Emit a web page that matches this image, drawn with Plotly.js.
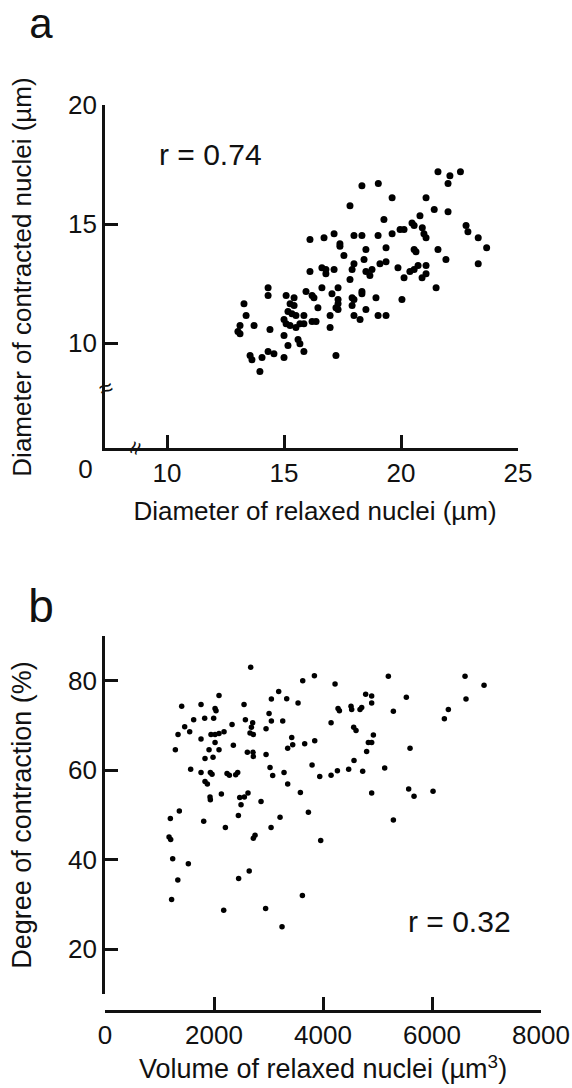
<!DOCTYPE html>
<html>
<head>
<meta charset="utf-8">
<script src="https://cdn.plot.ly/plotly-3.0.1.min.js"></script>
<style>
html,body{margin:0;padding:0;background:#fff;}
#wrap{position:relative;width:572px;height:1088px;overflow:hidden;}
#chart{position:absolute;left:0;top:0;width:572px;height:1088px;}
.lbl{position:absolute;font-family:'Liberation Sans',Arial,sans-serif;color:#111;white-space:nowrap;line-height:1.15;pointer-events:none;}
.sup{font-size:0.7em;position:relative;top:-0.55em;}
</style>
</head>
<body>
<div id="wrap"><div id="chart"></div></div>
<script>
// Panel a: diameter of relaxed (x) vs contracted (y) nuclei, µm
const relaxedDiameter = [
21.58,22.09,22.54,22.01,18.33,19.03,19.62,21.07,17.82,21.42,
22.01,20.81,19.27,20.47,20.56,20.91,22.78,22.86,19.96,20.13,
19.62,20.98,21.07,23.30,23.66,16.11,16.71,17.14,17.99,18.33,
19.02,17.39,17.39,18.50,19.36,17.56,20.56,20.64,21.58,21.92,
23.30,18.42,17.99,17.91,19.10,19.36,19.87,16.11,16.62,16.79,
16.79,17.14,18.50,18.67,18.76,20.13,20.38,20.56,20.73,21.07,
21.07,20.90,17.82,21.50,20.04,14.32,14.32,15.09,15.43,15.94,
16.20,16.28,16.62,17.31,17.05,17.91,17.99,18.33,18.33,18.93,
17.31,17.31,17.22,17.31,17.91,18.50,16.45,15.26,15.43,15.17,
15.34,15.51,15.85,13.29,13.38,13.72,13.12,13.03,13.12,14.40,
15.00,15.09,15.26,15.51,15.68,15.85,16.20,16.37,16.97,16.97,
17.99,18.25,19.02,19.36,15.00,15.17,15.60,15.68,15.85,17.22,
13.55,13.63,14.06,14.32,14.57,15.00,13.97];
const contractedDiameter = [
17.20,17.03,17.20,16.70,16.61,16.70,16.11,16.11,15.77,15.61,
15.52,15.35,15.19,15.05,14.94,14.85,14.94,14.68,14.77,14.77,
14.60,14.60,14.43,14.43,14.01,14.35,14.43,14.60,14.52,14.52,
14.52,14.18,14.07,13.93,14.01,13.68,13.93,13.84,13.93,13.51,
13.34,13.51,13.34,13.09,13.34,13.42,13.17,13.01,13.17,13.09,
12.92,13.09,13.01,12.84,13.09,12.75,13.01,13.09,13.26,13.26,
12.92,12.75,12.67,12.33,11.83,12.33,12.00,12.00,11.91,12.17,
12.00,11.91,12.33,12.33,12.08,11.91,11.83,12.17,12.08,11.91,
11.83,11.66,11.49,11.41,11.58,11.41,11.49,11.66,11.58,11.33,
11.24,11.16,11.16,11.66,11.16,10.74,10.74,10.49,10.40,10.57,
10.99,10.82,10.74,10.66,10.82,10.82,10.91,10.91,11.16,10.66,
11.16,10.99,11.16,11.16,10.32,9.90,10.15,9.98,9.65,9.48,
9.48,9.31,9.40,9.65,9.56,9.40,8.81];

// Panel b: volume of relaxed nuclei (µm³) vs degree of contraction (%)
const relaxedVolume = [
2673,1407,1762,2019,2037,2092,2551,1627,1829,1994,
1462,1554,1340,1291,1762,1945,2019,2092,2184,2331,
2576,2710,2686,2661,2722,1909,2092,2019,1982,1835,
2355,2612,2716,2722,2955,2955,3010,3053,3053,3187,
3261,3334,3542,3628,3842,4221,4276,4301,4148,3426,
3444,3352,3664,3848,3799,3940,4148,4264,3028,3077,
3285,3352,3585,3732,3958,3212,3047,2863,2753,2722,
2624,2557,2472,2496,2447,2209,2135,1927,1933,1811,
1364,1199,1175,1205,1572,1762,1933,1964,1835,1878,
2239,2282,2398,2435,
5199,4783,4893,4893,4514,4526,4679,4710,5291,5529,
4563,4606,4924,4832,4893,4801,4569,4728,4471,5132,
5597,4893,5572,5670,6019,5291,6606,6955,6624,6300,6227,
1242,1529,1336,2452,2646,1222,2178,2947,3622,3248];
const contractionDegree = [
83.0,74.3,74.7,73.8,73.3,76.7,74.7,71.3,71.6,71.6,
69.7,68.6,68.0,64.6,67.0,68.0,68.0,68.2,68.6,70.2,
71.3,70.6,69.6,68.3,68.0,64.6,64.6,66.2,62.9,62.6,
65.6,64.0,64.0,63.1,63.5,69.3,72.7,71.0,75.9,77.6,
71.0,76.0,75.0,80.0,81.1,79.3,73.8,73.3,70.6,67.3,
65.7,64.9,65.9,66.6,61.2,58.6,58.9,59.9,60.6,58.8,
59.5,56.9,55.0,50.6,44.3,49.5,47.2,53.0,45.5,44.8,
54.9,54.0,53.9,52.3,49.9,47.2,54.7,54.0,53.4,48.6,
50.9,49.2,45.1,44.5,60.2,59.5,59.5,59.1,57.5,56.9,
59.3,58.9,59.0,59.5,
81.0,77.0,76.6,75.0,74.3,73.6,73.6,74.0,73.2,76.3,
69.6,68.9,67.9,66.2,66.2,64.2,62.2,59.8,60.2,60.5,
64.9,54.9,55.8,54.2,55.3,48.9,81.0,79.0,75.9,73.6,71.5,
40.2,39.1,35.5,35.8,37.5,31.1,28.7,29.1,32.0,25.0];

const aXTicks = [10,15,20,25];
const aYTicks = [10,15,20];
const bXTicks = [0,2000,4000,6000,8000];
const bYTicks = [20,40,60,80];

const W = 572, H = 1088;
const px = v => v / W;
const py = v => 1 - v / H;
const FONT = 'Liberation Sans, Arial, sans-serif';
const INK = '#111';

const axisCommon = {
  showgrid:false, zeroline:false, showline:true, linewidth:2.6, linecolor:INK,
  ticks:'inside', ticklen:13, tickwidth:2.6, tickcolor:INK,
  tickfont:{family:FONT, size:26, color:INK}
};

const traces = [
  {type:'scatter', mode:'markers', x:relaxedDiameter, y:contractedDiameter,
   xaxis:'x', yaxis:'y', marker:{size:7, color:'#000'}, hoverinfo:'skip'},
  {type:'scatter', mode:'markers', x:relaxedVolume, y:contractionDegree,
   xaxis:'x2', yaxis:'y2', marker:{size:5.5, color:'#000'}, hoverinfo:'skip'}
];

const layout = {
  width:W, height:H, margin:{l:0,r:0,t:0,b:0},
  paper_bgcolor:'#fff', plot_bgcolor:'#fff', showlegend:false,
  xaxis:Object.assign({}, axisCommon, {
    domain:[px(105), px(518)], range:[7.35,25], anchor:'y',
    tickmode:'array', tickvals:aXTicks}),
  yaxis:Object.assign({}, axisCommon, {
    domain:[py(448), py(105)], range:[5.6,20], anchor:'x',
    tickmode:'array', tickvals:aYTicks}),
  xaxis2:Object.assign({}, axisCommon, {
    domain:[px(105), px(541)], range:[0,8000], anchor:'free', position:py(1011),
    tickmode:'array', tickvals:bXTicks}),
  yaxis2:Object.assign({}, axisCommon, {
    domain:[py(994), py(636)], range:[10,90], anchor:'x2',
    tickmode:'array', tickvals:bYTicks})
};

// Text labels (panel letters, r values, axis titles, axis-break marks)
const labels = [
  {html:'a', x:41, y:0, size:42, ax:'-50%', ay:'0%'},
  {html:'b', x:41, y:606, size:46},
  {html:'r = 0.74', x:159, y:155, size:30, ax:'0%'},
  {html:'r = 0.32', x:408, y:922, size:30, ax:'0%'},
  {html:'0', x:85.5, y:470, size:26},
  {html:'Diameter of relaxed nuclei (µm)', x:315, y:512, size:26},
  {html:'Diameter of contracted nuclei (µm)', x:23, y:277, size:26, rot:-90},
  {html:'Volume of relaxed nuclei (µm<span class="sup">3</span>)', x:323, y:1070, size:27},
  {html:'Degree of contraction (%)', x:23, y:815, size:27, rot:-90},
  {html:'≈', x:106, y:388, size:24, rot:-20},
  {html:'≈', x:135, y:448, size:24, rot:-70}
];

Plotly.newPlot('chart', traces, layout, {displayModeBar:false}).then(() => {
  const wrap = document.getElementById('wrap');
  labels.forEach(l => {
    const d = document.createElement('div');
    d.className = 'lbl';
    d.innerHTML = l.html;
    d.style.left = l.x + 'px';
    d.style.top = l.y + 'px';
    d.style.fontSize = l.size + 'px';
    const ax = l.ax || '-50%', ay = l.ay || '-50%';
    d.style.transformOrigin = '0 0';
    d.style.transform = 'rotate(' + (l.rot || 0) + 'deg) translate(' + ax + ',' + ay + ')';
    wrap.appendChild(d);
  });
});
</script>
</body>
</html>
